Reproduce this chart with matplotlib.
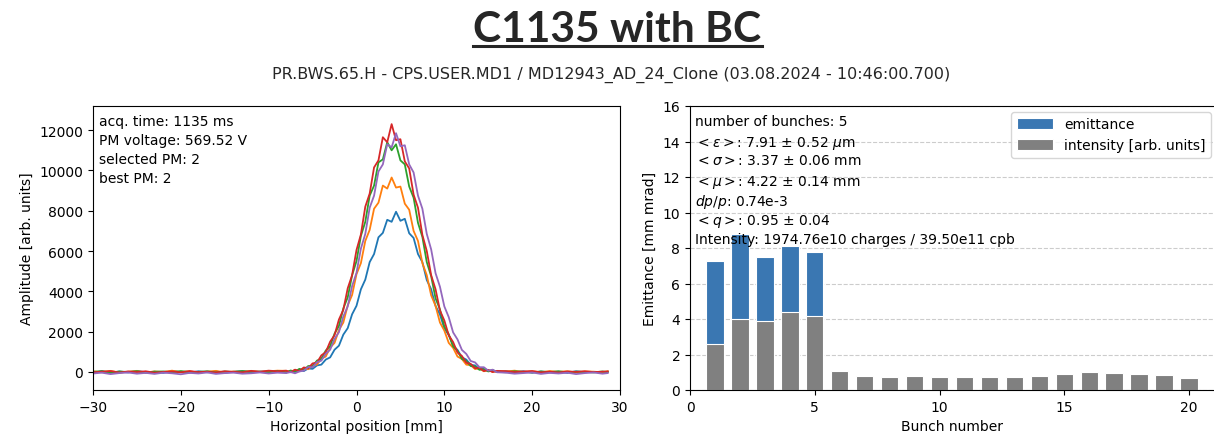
import numpy as np
import matplotlib
matplotlib.use("Agg")
import matplotlib.pyplot as plt
from matplotlib.lines import Line2D

# ---- wire scanner profiles (5 bunches) ----
x_left = np.arange(-30, -8, 1.0)
x_peak = np.arange(-8, 16.5, 0.5)
x_right = np.append(np.arange(17, 29, 1.0), 28.6)
position = np.concatenate([x_left, x_peak, x_right])

blue_left = [-40, 30, -60, 20, -30, 50, -20, 10, -50, 40, -10, -40, 30, -20, 20, -50, 10, 40, -30, 0, 30, -10]
blue_peak = [-20, 40, -10, 90, 40, 170, 150, 320, 360, 610, 720, 1100, 1300, 1850, 2170, 2860, 3280,
             4100, 4580, 5450, 5850, 6680, 6900, 7550, 7450, 7950, 7500, 7600, 6880, 6650, 5850, 5450,
             4560, 4100, 3270, 2850, 2160, 1830, 1300, 1090, 720, 610, 350, 320, 140, 170, 40, 90, 0]
blue_right = [40, -20, 30, -40, 20, -30, 10, -50, 30, -20, 0, -40, 10]

orange_left = [30, -20, 50, -40, 10, 40, -30, 20, -10, 60, -20, 30, -40, 10, 50, -30, 20, 0, 40, -10, 30, 60]
orange_peak = [50, -10, 90, 30, 180, 130, 340, 360, 660, 760, 1210, 1440, 2080, 2450, 3300, 3820, 4850,
               5400, 6500, 7050, 8100, 8400, 9250, 9100, 9650, 9150, 9200, 8350, 8050, 7000, 6500, 5400,
               4800, 3800, 3280, 2450, 2050, 1440, 1190, 760, 640, 360, 330, 140, 170, 30, 90, 0, 40]
orange_right = [20, 60, -10, 30, -20, 40, 0, 30, -30, 20, 10, -20, 30]

green_left = [0, 40, -30, 20, -10, 30, -40, 10, 20, -20, 40, -10, 0, 30, -30, 20, -10, 40, 0, 20, -20, 50]
green_peak = [-30, 70, 10, 150, 90, 290, 280, 560, 650, 1060, 1280, 1900, 2280, 3150, 3700, 4800, 5500,
              6750, 7450, 8750, 9250, 10400, 10550, 11400, 11000, 11300, 10500, 10300, 9200, 8650, 7400,
              6700, 5450, 4750, 3650, 3100, 2250, 1870, 1260, 1040, 640, 540, 290, 270, 100, 140, 20, 70, 0]
green_right = [-20, 30, 0, -30, 20, -10, 30, -20, 10, 0, -30, 20, -10]

red_left = [-20, 10, 40, -30, 20, -10, 30, -40, 0, 20, -20, 40, -10, 10, -30, 30, 0, -20, 50, 10, 60, 30]
red_peak = [60, -20, 110, 40, 220, 180, 420, 460, 820, 980, 1500, 1820, 2600, 3080, 4150, 4800, 6050,
            6820, 8200, 8850, 10150, 10500, 11650, 11400, 12300, 11500, 11550, 10450, 10100, 8800, 8150,
            6800, 6000, 4800, 4100, 3050, 2550, 1820, 1480, 960, 790, 450, 400, 180, 210, 40, 100, -10, 50]
red_right = [30, -10, 20, 40, -20, 10, -30, 20, 0, 30, -10, 10, 20]

purple_left = [-80, -40, -110, -60, -30, -90, -50, -100, -40, -70, -120, -50, -80, -30, -100, -60, -40,
               -90, -70, -30, -80, -40]
purple_peak = [-60, -10, -70, 20, 60, 240, 230, 480, 560, 900, 1100, 1640, 1970, 2750, 3250, 4260, 4920,
               6120, 6850, 8150, 8750, 9950, 10300, 11300, 11150, 11850, 11200, 11250, 10300, 9900, 8750,
               8100, 6850, 6080, 4900, 4230, 3250, 2720, 1960, 1610, 1090, 890, 540, 470, 230, 230, 60, 110, -20]
purple_right = [-40, -90, -60, -30, -100, -50, -80, -40, -110, -60, -30, -90, -60]

profiles = [
    blue_left + blue_peak + blue_right,
    orange_left + orange_peak + orange_right,
    green_left + green_peak + green_right,
    red_left + red_peak + red_right,
    purple_left + purple_peak + purple_right,
]

# ---- per-bunch summary ----
bunch = np.arange(1, 21)
emit_bunch = [1, 2, 3, 4, 5]
emittance = [7.28, 8.78, 7.50, 8.12, 7.79]
intensity = [2.59, 4.00, 3.90, 4.41, 4.17, 1.07, 0.81, 0.71, 0.81, 0.73,
             0.73, 0.73, 0.73, 0.81, 0.88, 1.01, 0.98, 0.92, 0.86, 0.69]

left_info = "acq. time: 1135 ms\nPM voltage: 569.52 V\nselected PM: 2\nbest PM: 2"
right_info = [
    "number of bunches: 5",
    r"$<\epsilon>$: 7.91 $\pm$ 0.52 $\mu$m",
    r"$<\sigma>$: 3.37 $\pm$ 0.06 mm",
    r"$<\mu>$: 4.22 $\pm$ 0.14 mm",
    r"$dp/p$: 0.74e-3",
    r"$<q>$: 0.95 $\pm$ 0.04",
    "Intensity: 1974.76e10 charges / 39.50e11 cpb",
]

W, H = 1214, 435
fig = plt.figure(figsize=(W / 100, H / 100), dpi=100)

title = fig.text(617.5 / W, 0.931, "C1135 with BC", ha="center", va="center",
                 fontsize=30.6, fontweight="bold", family="Lato", color="#262626")
fig.text(611 / W, 0.828, "PR.BWS.65.H - CPS.USER.MD1 / MD12943_AD_24_Clone (03.08.2024 - 10:46:00.700)",
         ha="center", va="center", fontsize=11.5, color="#262626")

# left panel: profiles
ax1 = fig.add_axes([93 / W, 1 - 391 / H, 527 / W, 284 / H])
for prof in profiles:
    ax1.plot(position, prof, lw=1.3)
ax1.set_xlim(-30, 30)
ax1.set_ylim(-900, 13200)
ax1.set_xlabel("Horizontal position [mm]")
ax1.set_ylabel("Amplitude [arb. units]")
ax1.text(0.012, 0.972, left_info, transform=ax1.transAxes, va="top", ha="left",
         fontsize=10, linespacing=1.45)

# right panel: emittance & intensity per bunch
ax2 = fig.add_axes([690 / W, 1 - 391 / H, 524 / W, 284 / H])
ax2.set_axisbelow(True)
ax2.yaxis.grid(True, linestyle="--", color="#cccccc", lw=0.8)
ax2.bar(emit_bunch, emittance, width=0.7, color="#3a77b2", edgecolor="white", lw=0.8, label="emittance")
ax2.bar(bunch, intensity, width=0.7, color="gray", edgecolor="white", lw=0.8, label="intensity [arb. units]")
ax2.set_xlim(0, 21)
ax2.set_ylim(0, 16)
ax2.set_yticks(range(0, 17, 2))
ax2.set_xticks(range(0, 21, 5))
ax2.spines["right"].set_visible(False)
ax2.set_xlabel("Bunch number")
ax2.set_ylabel("Emittance [mm mrad]")
for i, line in enumerate(right_info):
    ax2.text(0.01, 0.972 - i * 0.069, line, transform=ax2.transAxes, va="top", ha="left", fontsize=10)
ax2.legend(loc="upper right", fontsize=10, bbox_to_anchor=(1.008, 1.004),
           handlelength=2.6, handleheight=0.9)

# underline the big title
fig.canvas.draw()
bb = title.get_window_extent()
fig.add_artist(Line2D([bb.x0 / W, bb.x1 / W], [1 - 47 / H, 1 - 47 / H],
                      transform=fig.transFigure, color="#262626", lw=2.2))

fig.savefig("out.png", dpi=100)
